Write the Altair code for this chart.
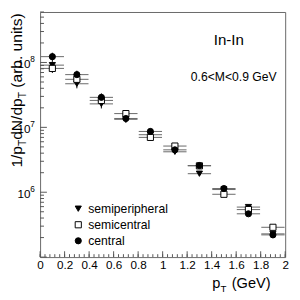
import altair as alt
import pandas as pd

# ---- data ----
pt = [0.1, 0.3, 0.5, 0.7, 0.9, 1.1, 1.3, 1.5, 1.7, 1.9]
central = [1.23e8, 6.5e7, 2.9e7, 1.37e7, 8.65e6, 4.5e6, 2.58e6, 1.14e6, 4.65e5, 2.2e5]
semicentral = [8.1e7, 5.5e7, 2.6e7, 1.63e7, 7.0e6, 5.15e6, 2.55e6, 9.3e5, 5.4e5, 2.88e5]
semiperipheral = [9.1e7, 4.7e7, 2.3e7, 1.33e7, 7.7e6, 4.2e6, 1.93e6, 1.1e6, 5.9e5, 2.28e5]
rel_err = [0.15, 0.15, 0.15, 0.12, 0.1, 0.07, 0.06, 0.05, 0.05, 0.05]
half_bin = 0.095

series_names = ["semiperipheral", "semicentral", "central"]
series_vals = [semiperipheral, semicentral, central]
shapes = ["triangle-down", "square", "circle"]
fills = ["black", "white", "black"]
strokes = ["black", "black", "black"]

x_major = [0, 0.2, 0.4, 0.6, 0.8, 1.0, 1.2, 1.4, 1.6, 1.8, 2.0]
x_minor = [round(i * 0.04, 2) for i in range(51)]
y_major = [1e5, 1e6, 1e7, 1e8]
y_minor = [k * 10 ** n for n in range(5, 9) for k in range(2, 10) if k * 10 ** n <= 6e8]
y_labels = [1e6, 1e7, 1e8]
y_exps = ["6", "7", "8"]

FONT = "Liberation Sans"
W, H = 252, 252

rows = []
for name, vals in zip(series_names, series_vals):
    for x, v, e in zip(pt, vals, rel_err):
        rows.append({"series": name, "pt": x, "v": v,
                     "xlo": x - half_bin, "xhi": min(x + half_bin, 2.0),
                     "ylo": v * (1 - e), "yhi": v * (1 + e)})
df = pd.DataFrame(rows)

xscale = alt.Scale(domain=[0, 2], nice=False, zero=False)
yscale = alt.Scale(type="log", domain=[1e5, 6e8], nice=False)
xaxis = alt.Axis(values=x_major, format="~g", ticks=False, domain=False, grid=False,
                 labelFont=FONT, labelFontSize=12, labelColor="black",
                 labelOverlap=False, labelFlush=False, labelPadding=3, title=None)

base = alt.Chart(df)

hbars = base.mark_rule(color="#666", strokeWidth=1).encode(
    x=alt.X("xlo:Q", scale=xscale, axis=xaxis),
    x2="xhi:Q",
    y=alt.Y("v:Q", scale=yscale, axis=None),
)
vbars = base.mark_rule(color="black", strokeWidth=1).encode(
    x=alt.X("pt:Q", scale=xscale, axis=xaxis),
    y=alt.Y("ylo:Q", scale=yscale, axis=None), y2="yhi:Q"
)

leg = alt.Legend(title=None, orient="none", legendX=33, legendY=196,
                 labelFont=FONT, labelFontSize=12.5, labelColor="black",
                 symbolSize=40, symbolStrokeWidth=1,
                 labelOffset=4, rowPadding=3.5, padding=0)

points = base.mark_point(filled=True, size=40, strokeWidth=1, opacity=1).encode(
    x=alt.X("pt:Q", scale=xscale, axis=xaxis),
    y=alt.Y("v:Q", scale=yscale, axis=None),
    shape=alt.Shape("series:N", scale=alt.Scale(domain=series_names, range=shapes), legend=leg),
    fill=alt.Fill("series:N", scale=alt.Scale(domain=series_names, range=fills), legend=leg),
    stroke=alt.Stroke("series:N", scale=alt.Scale(domain=series_names, range=strokes), legend=leg),
)

# ticks drawn inside the frame
ytmaj = alt.Chart(pd.DataFrame({"v": y_major})).mark_rule(color="#555").encode(
    y=alt.Y("v:Q", scale=yscale, axis=None), x=alt.value(0), x2=alt.value(7))
ytmin = alt.Chart(pd.DataFrame({"v": y_minor})).mark_rule(color="#555").encode(
    y=alt.Y("v:Q", scale=yscale, axis=None), x=alt.value(0), x2=alt.value(4))
xtmaj = alt.Chart(pd.DataFrame({"v": x_major})).mark_rule(color="#555").encode(
    x=alt.X("v:Q", scale=xscale, axis=xaxis), y=alt.value(H), y2=alt.value(H - 6))
xtmin = alt.Chart(pd.DataFrame({"v": x_minor})).mark_rule(color="#555").encode(
    x=alt.X("v:Q", scale=xscale, axis=xaxis), y=alt.value(H), y2=alt.value(H - 3))

# y tick labels 10^n
ylab_df = pd.DataFrame({"v": y_labels, "e": y_exps, "t": ["10"] * 3})
ylab = alt.Chart(ylab_df).mark_text(font=FONT, fontSize=12, align="right", baseline="middle",
                                    dy=2).encode(
    y=alt.Y("v:Q", scale=yscale, axis=None), x=alt.value(-10), text="t:N")
yexp = alt.Chart(ylab_df).mark_text(font=FONT, fontSize=8.5, align="left", baseline="middle",
                                    dy=-3).encode(
    y=alt.Y("v:Q", scale=yscale, axis=None), x=alt.value(-10), text="e:N")


def label(txt, px, py, fs, angle=0, align="left"):
    return alt.Chart(pd.DataFrame({"t": [txt]})).mark_text(
        font=FONT, fontSize=fs, align=align, baseline="alphabetic", angle=angle, color="black"
    ).encode(x=alt.value(px), y=alt.value(py), text="t:N")


# y title: 1/p_T dN/dp_T (arb. units), rotated
F, FS = 16, 10.5
y0 = 160
XT, XS = -18.5, -14.5
ytitle = [
    label("1/p", XT, y0, F, 270),
    label("T", XS, y0 - 22.2, FS, 270),
    label("dN/dp", XT, y0 - 22.2 - 6.4, F, 270),
    label("T", XS, y0 - 22.2 - 6.4 - 42.7, FS, 270),
    label("(arb. units)", XT, y0 - 22.2 - 6.4 - 42.7 - 6.4 - 4.5, F, 270),
]
# x title: p_T (GeV)
xtitle = [
    label("p", 177, 284, 15),
    label("T", 185.5, 288, 10),
    label("(GeV)", 197, 284, 15),
]
notes = [
    label("In-In", 194, 34, 15.5, align="center"),
    label("0.6<M<0.9 GeV", 155, 71, 12.5),
]

chart = alt.layer(
    hbars, vbars, ytmaj, ytmin, xtmaj, xtmin, points, ylab, yexp, *ytitle, *xtitle, *notes
).properties(
    width=W, height=H,
    autosize=alt.AutoSizeParams(type="none"),
    padding={"left": 33, "top": 0, "right": 7, "bottom": 40},
).configure_view(stroke="#666", strokeWidth=1).configure_axisX(labelOverlap=False)

chart.save("out.html", embed_options={"renderer": "svg", "actions": False})
